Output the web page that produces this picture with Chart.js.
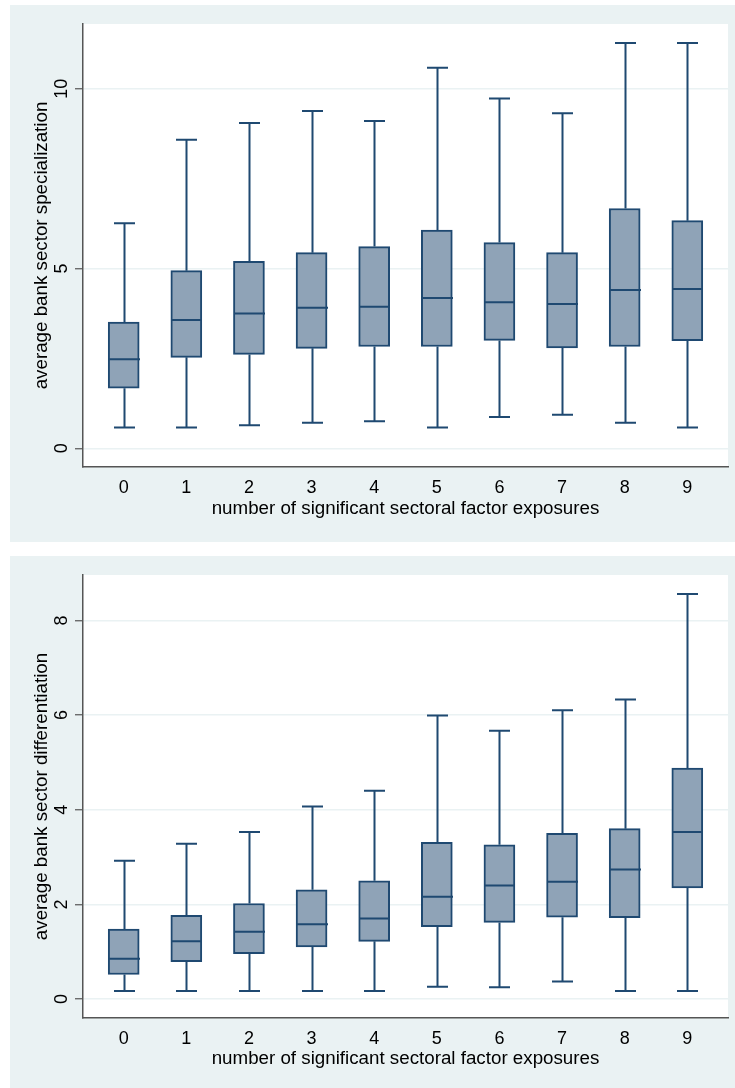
<!DOCTYPE html>
<html>
<head>
<meta charset="utf-8">
<script src="https://cdn.jsdelivr.net/npm/chart.js@4.4.1/dist/chart.umd.min.js"></script>
<style>
    body { margin: 0; background: #ffffff; width: 735px; height: 1088px; overflow: hidden; position: relative; }
    .panel { position: absolute; left: 10px; width: 725px; background: #eaf2f3; }
    #panelTop { top: 5px; height: 537px; }
    #panelBottom { top: 556px; height: 532px; }
    canvas { display: block; }
</style>
</head>
<body>
<div class="panel" id="panelTop"><canvas id="specChart"></canvas></div>
<div class="panel" id="panelBottom"><canvas id="diffChart"></canvas></div>

<script>
// Категории: число значимых секторных факторов
const categories = [0, 1, 2, 3, 4, 5, 6, 7, 8, 9];

// Верхний график: average bank sector specialization
const specMin = [0.58, 0.58, 0.64, 0.71, 0.75, 0.58, 0.87, 0.93, 0.71, 0.58];
const specQ1  = [1.67, 2.53, 2.61, 2.78, 2.83, 2.83, 3.00, 2.79, 2.83, 2.99];
const specMed = [2.48, 3.57, 3.75, 3.91, 3.94, 4.18, 4.06, 4.01, 4.40, 4.43];
const specQ3  = [3.51, 4.94, 5.20, 5.44, 5.61, 6.07, 5.72, 5.44, 6.67, 6.33];
const specMax = [6.26, 8.58, 9.05, 9.38, 9.10, 10.58, 9.73, 9.32, 11.27, 11.27];
const specTicks = [0, 5, 10];

// Нижний график: average bank sector differentiation
const diffMin = [0.17, 0.17, 0.17, 0.17, 0.17, 0.26, 0.25, 0.37, 0.17, 0.17];
const diffQ1  = [0.52, 0.79, 0.96, 1.10, 1.22, 1.53, 1.62, 1.73, 1.72, 2.35];
const diffMed = [0.85, 1.22, 1.42, 1.58, 1.70, 2.16, 2.40, 2.48, 2.74, 3.53];
const diffQ3  = [1.48, 1.77, 2.02, 2.31, 2.50, 3.31, 3.26, 3.50, 3.60, 4.88];
const diffMax = [2.92, 3.28, 3.53, 4.07, 4.40, 5.99, 5.67, 6.10, 6.33, 8.56];
const diffTicks = [0, 2, 4, 6, 8];

const xTitle = "number of significant sectoral factor exposures";

const NAVY = "#1f4971";
const BOX_FILL = "#8fa3b7";
const GRID = "#eaf2f3";
const AXIS = "#555555";
const FONT = "'Liberation Sans', Arial, sans-serif";

// Белый фон области построения
const plotBackground = {
    id: 'plotBackground',
    beforeDraw(chart) {
        const { ctx, chartArea } = chart;
        ctx.save();
        ctx.fillStyle = "#ffffff";
        ctx.fillRect(chartArea.left, chartArea.top, chartArea.width, chartArea.height);
        ctx.restore();
    }
};

// Усы, засечки и медианы поверх прямоугольников
const whiskers = {
    id: 'whiskers',
    afterDatasetsDraw(chart, args, opts) {
        const { ctx, scales: { x, y } } = chart;
        const s = opts.stats;
        if (!s) return;
        ctx.save();
        ctx.strokeStyle = NAVY;
        ctx.lineWidth = 2;
        ctx.lineCap = "butt";
        categories.forEach((c, i) => {
            const px = Math.round(x.getPixelForValue(c)) + 0.5;
            const yMin = y.getPixelForValue(s.min[i]);
            const yQ1 = y.getPixelForValue(s.q1[i]);
            const yMed = y.getPixelForValue(s.med[i]);
            const yQ3 = y.getPixelForValue(s.q3[i]);
            const yMax = y.getPixelForValue(s.max[i]);

            ctx.beginPath();
            ctx.moveTo(px, yQ3); ctx.lineTo(px, yMax);
            ctx.moveTo(px - 10.5, yMax); ctx.lineTo(px + 10.5, yMax);
            ctx.moveTo(px, yQ1); ctx.lineTo(px, yMin);
            ctx.moveTo(px - 10.5, yMin); ctx.lineTo(px + 10.5, yMin);
            ctx.moveTo(px - 15.5, yMed); ctx.lineTo(px + 15.5, yMed);
            ctx.stroke();
        });
        ctx.restore();
    }
};

function renderBoxChart(canvasId, cfg) {
    const canvas = document.getElementById(canvasId);
    const panel = canvas.parentElement;
    canvas.width = panel.clientWidth;
    canvas.height = panel.clientHeight;

    return new Chart(canvas.getContext("2d"), {
        type: "bar",
        data: {
            datasets: [{
                data: categories.map((c, i) => ({ x: c, y: [cfg.q1[i], cfg.q3[i]] })),
                backgroundColor: BOX_FILL,
                borderColor: NAVY,
                borderWidth: 2,
                borderSkipped: false,
                barThickness: 31
            }]
        },
        options: {
            responsive: false,
            animation: false,
            events: [],
            layout: { padding: { left: 0, top: 19, right: 7, bottom: 0 } },
            plugins: {
                legend: { display: false },
                tooltip: { enabled: false },
                whiskers: { stats: cfg }
            },
            scales: {
                x: {
                    type: "linear",
                    offset: false,
                    min: -0.65,
                    max: 9.65,
                    afterBuildTicks: scale => { scale.ticks = categories.map(v => ({ value: v })); },
                    afterFit: scale => { scale.height = cfg.xAxisHeight; },
                    grid: { display: false, drawTicks: false, offset: false },
                    border: { display: true, color: AXIS, width: 1.5 },
                    ticks: {
                        color: "#000000",
                        font: { family: FONT, size: 18 },
                        padding: 10,
                        maxRotation: 0
                    },
                    title: {
                        display: true,
                        text: xTitle,
                        color: "#000000",
                        font: { family: FONT, size: 18.75 },
                        padding: { top: 0, bottom: cfg.xTitlePad }
                    }
                },
                y: {
                    min: cfg.yMin,
                    max: cfg.yMax,
                    afterBuildTicks: scale => { scale.ticks = cfg.ticks.map(v => ({ value: v })); },
                    afterFit: scale => { scale.width = 73; },
                    grid: {
                        color: GRID,
                        lineWidth: 1.5,
                        drawTicks: true,
                        tickLength: 8,
                        tickColor: AXIS,
                        tickWidth: 1.2
                    },
                    border: { display: true, color: AXIS, width: 1.5 },
                    ticks: {
                        color: "#000000",
                        font: { family: FONT, size: 18 },
                        minRotation: 90,
                        maxRotation: 90,
                        crossAlign: "center",
                        padding: cfg.yTickPad
                    },
                    title: {
                        display: true,
                        text: cfg.yTitle,
                        color: "#000000",
                        font: { family: FONT, size: 18.75 },
                        padding: { top: 20.5, bottom: 0 }
                    }
                }
            }
        },
        plugins: [plotBackground, whiskers]
    });
}

renderBoxChart("specChart", {
    min: specMin, q1: specQ1, med: specMed, q3: specQ3, max: specMax,
    ticks: specTicks, yMin: -0.52, yMax: 11.8,
    yTitle: "average bank sector specialization",
    xAxisHeight: 75, xTitlePad: 21.5, yTickPad: 3
});

renderBoxChart("diffChart", {
    min: diffMin, q1: diffQ1, med: diffMed, q3: diffQ3, max: diffMax,
    ticks: diffTicks, yMin: -0.40, yMax: 8.96,
    yTitle: "average bank sector differentiation",
    xAxisHeight: 70, xTitlePad: 17.5, yTickPad: 8
});
</script>
</body>
</html>
